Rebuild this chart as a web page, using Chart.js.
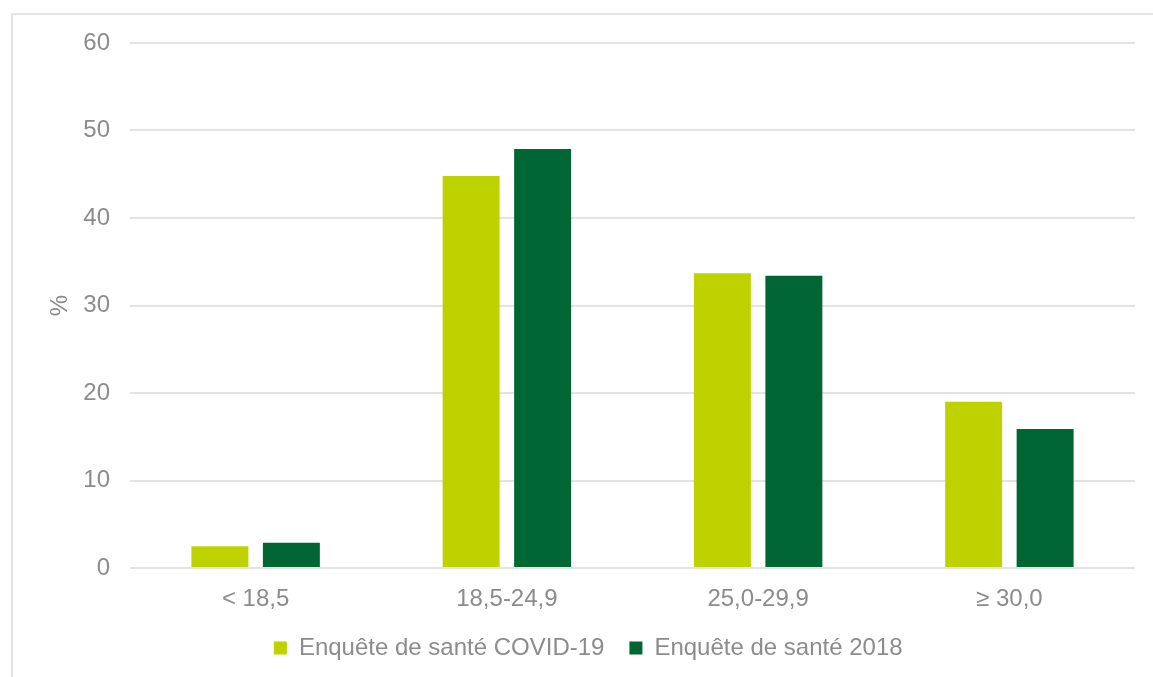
<!DOCTYPE html>
<html>
<head>
<meta charset="utf-8">
<script src="https://cdn.jsdelivr.net/npm/chart.js@4"></script>
<style>
  html, body { margin: 0; padding: 0; background: #fff; overflow: hidden; width: 1153px; height: 677px; }
  #frame { position: absolute; left: 11px; top: 13px; border: 2px solid #e4e4e4; width: 1160px; height: 680px; }
  canvas { display: block; }
</style>
</head>
<body>
<div id="frame"><canvas id="bmiChart" width="1160" height="680"></canvas></div>
<script>
// categories (IMC classes)
const categories = ["< 18,5", "18,5-24,9", "25,0-29,9", "\u2265 30,0"];
// series values in %
const covidValues = [2.5, 44.8, 33.7, 19.0];
const survey2018Values = [2.9, 47.9, 33.4, 15.9];
// y tick range
const yMin = 0;
const yMax = 60;
const yStep = 10;

const textGray = "#8c8c8c";
const gridGray = "#e3e3e3";
const fontFamily = "'Liberation Sans', Arial, sans-serif";

const ctx = document.getElementById("bmiChart").getContext("2d");
new Chart(ctx, {
    type: "bar",
    data: {
        labels: categories,
        datasets: [
            {
                label: "Enquête de santé COVID-19",
                data: covidValues,
                backgroundColor: "#bed200",
                borderWidth: 0,
            },
            {
                label: "Enquête de santé 2018",
                data: survey2018Values,
                backgroundColor: "#006633",
                borderWidth: 0,
            },
        ],
    },
    options: {
        responsive: false,
        animation: false,
        categoryPercentage: 0.569,
        barPercentage: 0.797,
        layout: {
            padding: { left: 28.5, right: 38, top: 28, bottom: 25 },
        },
        scales: {
            x: {
                grid: { display: false },
                border: { display: false },
                ticks: {
                    color: textGray,
                    padding: 9,
                    font: { family: fontFamily, size: 24 },
                },
                afterFit: (scale) => { scale.height = 43; },
            },
            y: {
                min: yMin,
                max: yMax,
                grid: { color: gridGray, lineWidth: 2, drawTicks: false },
                border: { display: false },
                ticks: {
                    stepSize: yStep,
                    color: textGray,
                    padding: 20,
                    font: { family: fontFamily, size: 24 },
                },
                title: {
                    display: true,
                    text: "%",
                    color: textGray,
                    padding: { top: 4, bottom: 0 },
                    font: { family: fontFamily, size: 24 },
                },
                afterFit: (scale) => {
                    scale.width = 88.5;
                    scale.paddingTop = 0;
                    scale.paddingBottom = 0;
                },
            },
        },
        plugins: {
            legend: {
                position: "bottom",
                labels: {
                    color: textGray,
                    boxWidth: 13,
                    boxHeight: 13,
                    padding: 25,
                    font: { family: fontFamily, size: 24 },
                },
            },
            tooltip: { enabled: false },
        },
    },
});
</script>
</body>
</html>
